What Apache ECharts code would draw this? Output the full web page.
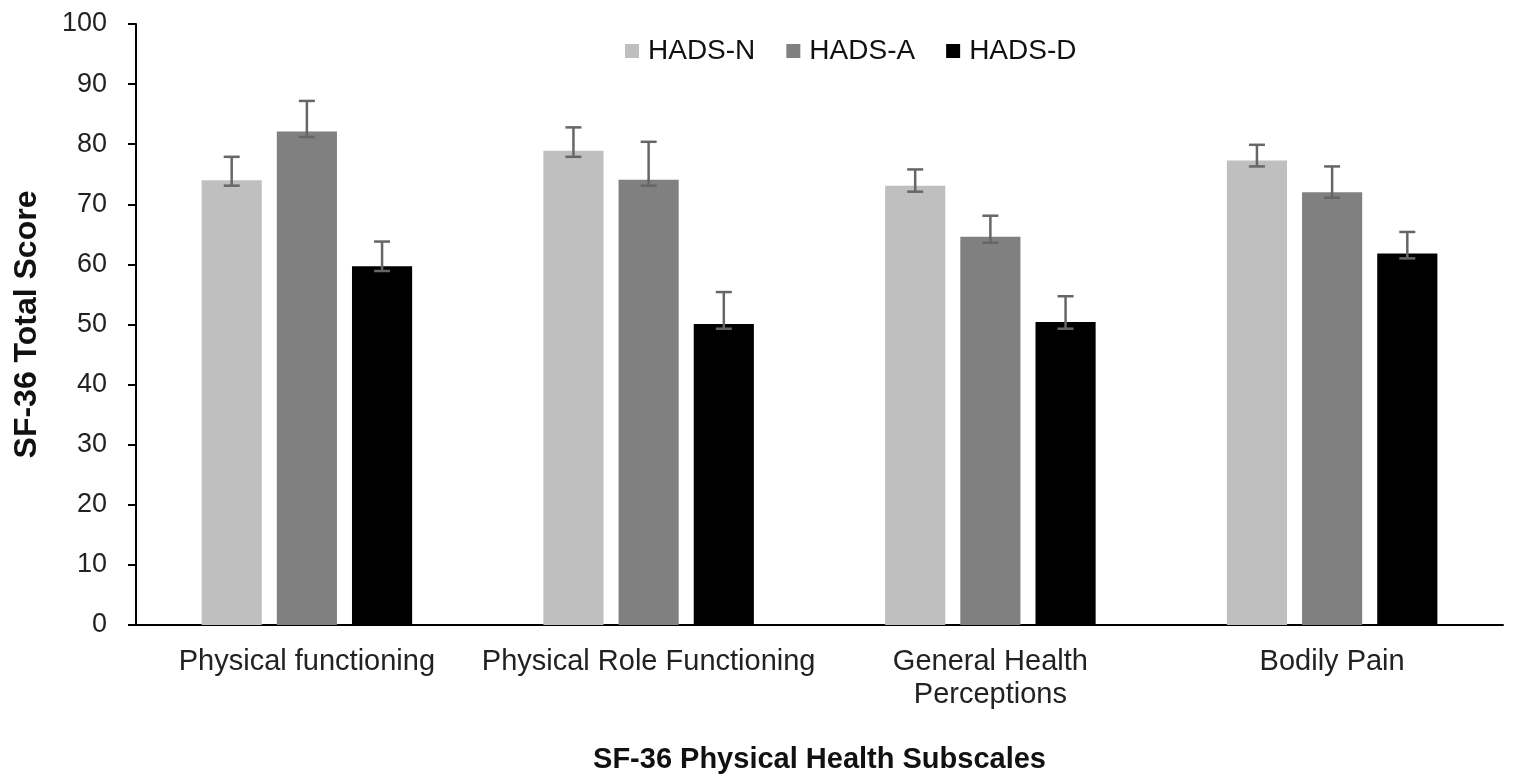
<!DOCTYPE html>
<html>
<head>
<meta charset="utf-8">
<script src="https://cdn.jsdelivr.net/npm/echarts@6/dist/echarts.min.js"></script>
<style>
html,body{margin:0;padding:0;background:#fff;}
#chart{width:1519px;height:780px;}
</style>
</head>
<body>
<div id="chart"></div>
<script>
// categories and values
var categories = ['Physical functioning', 'Physical Role Functioning', 'General Health\nPerceptions', 'Bodily Pain'];
var seriesNames = ['HADS-N', 'HADS-A', 'HADS-D'];
var colors = ['#bfbfbf', '#808080', '#000000'];

var meanN = [74.0, 78.9, 73.1, 77.3];
var meanA = [82.1, 74.1, 64.6, 72.0];
var meanD = [59.7, 50.1, 50.4, 61.8];

var upperN = [77.9, 82.8, 75.8, 79.9];
var upperA = [87.2, 80.4, 68.1, 76.3];
var upperD = [63.8, 55.4, 54.7, 65.4];

var lowerN = [73.1, 77.9, 72.1, 76.3];
var lowerA = [81.2, 73.1, 63.6, 71.1];
var lowerD = [58.9, 49.3, 49.3, 61.0];

var yTicks = [0, 10, 20, 30, 40, 50, 60, 70, 80, 90, 100];

var means = [meanN, meanA, meanD];
var uppers = [upperN, upperA, upperD];
var lowers = [lowerN, lowerA, lowerD];

var BAR_FRAC = 0.176;  // bar width as fraction of category band
var GAP_FRAC = 0.25;   // gap between bars as fraction of bar width

var chart = echarts.init(document.getElementById('chart'));

function errorSeries(idx) {
    var data = [];
    for (var i = 0; i < categories.length; i++) {
        data.push([i, lowers[idx][i], uppers[idx][i]]);
    }
    return {
        type: 'custom',
        name: seriesNames[idx] + ' err',
        z: 10,
        silent: true,
        data: data,
        encode: { x: 0, y: [1, 2] },
        renderItem: function (params, api) {
            var band = api.size([1, 0])[0];
            var bw = band * BAR_FRAC;
            var off = (idx - 1) * bw * (1 + GAP_FRAC);
            var lo = api.coord([api.value(0), api.value(1)]);
            var hi = api.coord([api.value(0), api.value(2)]);
            var x = lo[0] + off;
            var half = 8;
            var st = { stroke: '#666666', lineWidth: 2.5 };
            return {
                type: 'group',
                children: [
                    { type: 'line', shape: { x1: x, y1: hi[1], x2: x, y2: lo[1] }, style: st },
                    { type: 'line', shape: { x1: x - half, y1: hi[1], x2: x + half, y2: hi[1] }, style: st },
                    { type: 'line', shape: { x1: x - half, y1: lo[1], x2: x + half, y2: lo[1] }, style: st }
                ]
            };
        }
    };
}

var series = [];
for (var s = 0; s < 3; s++) {
    series.push({
        name: seriesNames[s],
        type: 'bar',
        data: means[s],
        barWidth: (BAR_FRAC * 100) + '%',
        barGap: (GAP_FRAC * 100) + '%',
        itemStyle: { color: colors[s] }
    });
}
for (var s = 0; s < 3; s++) {
    series.push(errorSeries(s));
}

var option = {
    backgroundColor: '#ffffff',
    animation: false,
    textStyle: { fontFamily: 'Liberation Sans' },
    legend: {
        data: seriesNames,
        top: 32,
        left: 620,
        itemWidth: 14,
        itemHeight: 14,
        itemGap: 31,
        icon: 'rect',
        textStyle: { fontSize: 28, color: '#111', fontFamily: 'Liberation Sans', padding: [0, 0, 0, 4] }
    },
    grid: { left: 136, right: 16, top: 24, bottom: 155 },
    xAxis: {
        type: 'category',
        data: categories,
        axisLine: { lineStyle: { color: '#000', width: 2 } },
        axisTick: { show: false },
        axisLabel: { fontSize: 29, color: '#222', margin: 20, lineHeight: 33, interval: 0 },
        name: 'SF-36 Physical Health Subscales',
        nameLocation: 'middle',
        nameGap: 120,
        nameTextStyle: { fontSize: 29, fontWeight: 'bold', color: '#111' }
    },
    yAxis: {
        type: 'value',
        min: yTicks[0],
        max: yTicks[yTicks.length - 1],
        interval: 10,
        axisLine: { show: true, lineStyle: { color: '#000', width: 2 } },
        axisTick: { show: true, length: 8, lineStyle: { color: '#000', width: 2 } },
        splitLine: { show: false },
        axisLabel: { fontSize: 27, color: '#222', margin: 29 },
        name: 'SF-36 Total Score',
        nameLocation: 'middle',
        nameGap: 93,
        nameTextStyle: { fontSize: 32, fontWeight: 'bold', color: '#111' }
    },
    series: series
};
chart.setOption(option);
</script>
</body>
</html>
